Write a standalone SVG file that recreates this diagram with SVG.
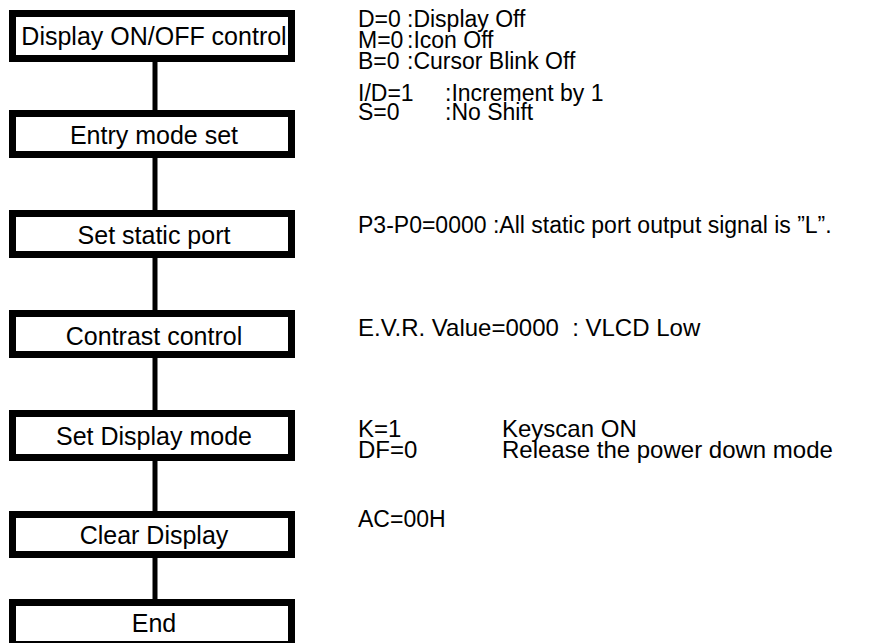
<svg xmlns="http://www.w3.org/2000/svg" width="870" height="643" viewBox="0 0 870 643">
<style>
.box{fill:#fff;stroke:#000;stroke-width:7}
.bt{font-family:"Liberation Sans",Arial,sans-serif;font-size:25px;text-anchor:middle;fill:#000}
.rt{font-family:"Liberation Sans",Arial,sans-serif;font-size:23px;fill:#000}
.rl{font-size:24px}
.conn line{stroke:#000;stroke-width:5}
</style>
<rect width="870" height="643" fill="#fff"/>
<g id="connectors" class="conn">
<line x1="155" y1="60" x2="155" y2="112"/>
<line x1="155" y1="156" x2="155" y2="212"/>
<line x1="155" y1="256" x2="155" y2="312"/>
<line x1="155" y1="356" x2="155" y2="412"/>
<line x1="155" y1="458" x2="155" y2="513"/>
<line x1="155" y1="556" x2="155" y2="601"/>
</g>
<g id="n1"><rect class="box" x="12.5" y="13.5" width="279" height="45"/><text class="bt" x="154" y="45">Display ON/OFF control</text></g>
<g id="n2"><rect class="box" x="12.5" y="113.5" width="279" height="41"/><text class="bt" x="154" y="144">Entry mode set</text></g>
<g id="n3"><rect class="box" x="12.5" y="213.5" width="279" height="41"/><text class="bt" x="154" y="244">Set static port</text></g>
<g id="n4"><rect class="box" x="12.5" y="313.5" width="279" height="41"/><text class="bt" x="154" y="345">Contrast control</text></g>
<g id="n5"><rect class="box" x="12.5" y="413.5" width="279" height="44"/><text class="bt" x="154" y="445">Set Display mode</text></g>
<g id="n6"><rect class="box" x="12.5" y="514.5" width="279" height="40"/><text class="bt" x="154" y="544">Clear Display</text></g>
<g id="n7"><rect class="box" x="12.5" y="602.5" width="279" height="42"/><text class="bt" x="154" y="632">End</text></g>
<g id="notes">
<text class="rt" x="358" y="27">D=0</text><text class="rt" x="407" y="27">:Display Off</text>
<text class="rt" x="358" y="48">M=0</text><text class="rt" x="407" y="48">:Icon Off</text>
<text class="rt" x="358" y="69">B=0</text><text class="rt" x="407" y="69">:Cursor Blink Off</text>
<text class="rt" x="358" y="101">I/D=1</text><text class="rt" x="445" y="101">:Increment by 1</text>
<text class="rt" x="358" y="120">S=0</text><text class="rt" x="445" y="120">:No Shift</text>
<text class="rt" x="358" y="233">P3-P0=0000 :All static port output signal is ”L”.</text>
<text class="rt rl" x="358" y="336">E.V.R. Value=0000&#160; : VLCD Low</text>
<text class="rt rl" x="358" y="437">K=1</text><text class="rt rl" x="502" y="437">Keyscan ON</text>
<text class="rt rl" x="358" y="458">DF=0</text><text class="rt rl" x="502" y="458">Release the power down mode</text>
<text class="rt" x="358" y="527">AC=00H</text>
</g>
</svg>
